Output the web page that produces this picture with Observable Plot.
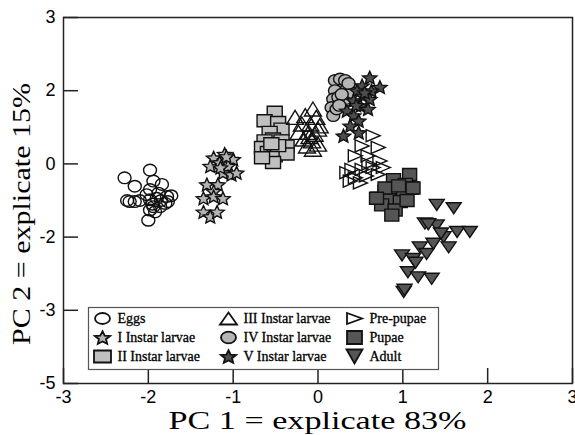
<!DOCTYPE html>
<html><head><meta charset="utf-8">
<script src="https://cdn.jsdelivr.net/npm/d3@7"></script>
<script src="https://cdn.jsdelivr.net/npm/@observablehq/plot@0.6"></script>
<style>
body{margin:0;background:#fff}
#chart{position:relative;width:575px;height:435px}
#legend{position:absolute;left:88px;top:307px}
</style></head><body><div id="chart"></div>
<script>
// ---- data (PC1, PC2) ----
const eggs = [[-2.28,-0.38],[-1.98,-0.17],[-2.16,-0.61],[-1.94,-0.47],[-1.84,-0.56],[-2.22,-1.03],[-2.16,-1.03],[-2.10,-1.00],[-1.98,-0.70],[-1.88,-0.80],[-1.78,-0.89],[-1.73,-0.87],[-1.94,-1.17],[-1.86,-1.17],[-1.80,-1.08],[-2.00,-1.54],[-1.98,-1.26],[-1.90,-0.94],[-2.02,-0.84],[-1.77,-1.03],[-1.92,-1.31],[-1.98,-0.98],[-2.25,-1.00],[-1.95,-1.10],[-1.85,-1.00]];
const instar1 = [[-1.23,0.17],[-1.10,0.27],[-1.00,0.13],[-1.27,-0.06],[-1.16,0.04],[-1.06,-0.06],[-1.12,-0.24],[-1.02,-0.29],[-0.96,-0.24],[-1.31,-0.56],[-1.18,-0.56],[-1.23,-0.75],[-1.35,-0.94],[-1.23,-0.89],[-1.12,-0.94],[-1.35,-1.31],[-1.27,-1.44],[-1.19,-1.31],[-1.08,0.20],[-1.15,-0.10]];
const instar2 = [[-0.51,1.41],[-0.63,1.18],[-0.47,1.13],[-0.43,0.95],[-0.57,0.86],[-0.53,0.68],[-0.63,0.63],[-0.43,0.63],[-0.37,0.49],[-0.53,0.40],[-0.66,0.45],[-0.59,0.31],[-0.51,0.22],[-0.37,0.27],[-0.53,0.04],[-0.66,0.17],[-0.47,0.50],[-0.55,0.55]];
const instar3 = [[-0.06,1.50],[-0.27,1.27],[-0.15,1.32],[-0.02,1.27],[-0.19,1.09],[-0.09,1.09],[0.02,1.04],[-0.23,0.86],[-0.11,0.86],[-0.04,0.81],[-0.17,0.68],[-0.07,0.63],[0.00,0.54],[-0.13,0.49],[-0.06,0.40],[-0.10,0.75],[0.00,0.95]];
const instar4 = [[0.20,2.14],[0.26,2.16],[0.32,2.14],[0.20,2.00],[0.18,1.77],[0.16,1.54],[0.18,1.32],[0.22,1.50],[0.30,1.68],[0.24,1.82],[0.34,2.02],[0.40,1.95],[0.28,1.90],[0.25,1.60],[0.36,2.10]];
const instar5 = [[0.61,2.18],[0.73,2.05],[0.52,2.07],[0.63,2.00],[0.46,2.00],[0.53,1.86],[0.61,1.77],[0.42,1.73],[0.50,1.59],[0.59,1.50],[0.34,1.45],[0.42,1.32],[0.48,1.18],[0.38,1.04],[0.30,0.77],[0.48,0.86],[0.55,1.95],[0.45,1.60]];
const prepupae = [[0.65,0.77],[0.52,0.49],[0.71,0.45],[0.44,0.22],[0.59,0.22],[0.73,0.08],[0.40,-0.15],[0.52,-0.15],[0.65,-0.10],[0.77,-0.10],[0.34,-0.24],[0.44,-0.38],[0.57,-0.33],[0.71,-0.29],[0.38,-0.47],[0.50,-0.52],[0.60,0.00]];
const pupae = [[1.08,-0.29],[0.89,-0.43],[1.03,-0.56],[1.10,-0.66],[0.79,-0.75],[0.91,-0.80],[1.01,-0.80],[0.71,-0.94],[0.83,-0.98],[0.97,-1.03],[0.75,-1.12],[0.91,-1.26],[0.87,-1.40],[1.12,-0.66],[0.79,-0.66],[0.69,-0.94],[0.95,-0.60],[1.05,-1.00]];
const adult = [[1.40,-1.12],[1.60,-1.21],[1.26,-1.63],[1.40,-1.68],[1.64,-1.86],[1.79,-1.86],[1.48,-2.00],[1.36,-2.09],[1.54,-2.14],[1.20,-2.14],[0.99,-2.25],[1.12,-2.30],[1.28,-2.23],[1.06,-2.48],[1.18,-2.55],[1.34,-2.57],[1.01,-2.75],[1.30,-1.65],[1.45,-1.90],[1.15,-2.35],[1.02,-2.72]];

const names = ["Eggs","I Instar larvae","II Instar larvae","III Instar larvae","IV Instar larvae","V Instar larvae","Pre-pupae","Pupae","Adult"];
const xTicks = [-3,-2,-1,0,1,2,3];
const yTicks = [-5,-3,-2,0,2,3];
const xTitle = "PC 1 = explicate 83%";
const yTitle = "PC 2 = explicate 15%";

// ---- symbols ----
function ellipse(rx, ry){ return {draw(c){ const k=0.5523; c.moveTo(rx,0); c.bezierCurveTo(rx,ry*k,rx*k,ry,0,ry); c.bezierCurveTo(-rx*k,ry,-rx,ry*k,-rx,0); c.bezierCurveTo(-rx,-ry*k,-rx*k,-ry,0,-ry); c.bezierCurveTo(rx*k,-ry,rx,-ry*k,rx,0); c.closePath(); }}; }
function poly(pts){ return {draw(c){ pts.forEach(([x,y],i)=> i? c.lineTo(x,y): c.moveTo(x,y)); c.closePath(); }}; }
function rect(w,h){ return poly([[-w/2,-h/2],[w/2,-h/2],[w/2,h/2],[-w/2,h/2]]); }
function triUp(w,h){ return poly([[0,-h/2],[w/2,h/2],[-w/2,h/2]]); }
function triDown(w,h){ return poly([[-w/2,-h/2],[w/2,-h/2],[0,h/2]]); }
function triRight(w,h){ return poly([[-w/2,-h/2],[w/2,0],[-w/2,h/2]]); }
function star(rx, ry, k=0.46){ const p=[]; for(let i=0;i<10;i++){const a=-Math.PI/2+i*Math.PI/5, r=i%2?k:1; p.push([Math.cos(a)*r*rx, Math.sin(a)*r*ry+ry*0.1]);} return poly(p); }

const series = [
  {data: eggs,     sym: ellipse(6.5,5.8), leg: ellipse(7.5,5.5), fill: "none"},
  {data: instar1,  sym: star(7.5,7),      leg: star(8,7),        fill: "#b3b3b3"},
  {data: instar2,  sym: rect(15,12),      leg: rect(17,12),      fill: "#c0c0c0"},
  {data: instar3,  sym: triUp(17,14),     leg: triUp(17,12),     fill: "none"},
  {data: instar4,  sym: ellipse(6.5,5.8), leg: ellipse(7.5,5.8), fill: "#b5b5b5"},
  {data: instar5,  sym: star(7.5,7),      leg: star(8,7),        fill: "#4d4d4d"},
  {data: prepupae, sym: triRight(14,12),  leg: triRight(15,11),  fill: "none"},
  {data: pupae,    sym: rect(14,12),      leg: rect(15,13),      fill: "#555555"},
  {data: adult,    sym: triDown(15,11),   leg: triDown(16,14),   fill: "#555555"}
];

const W=575, H=435, mL=63, mR=3, mT=17, mB=52;
const yRange = d3.quantize(d3.interpolateNumber(H-mB, mT), yTicks.length);

const plot = Plot.plot({
  width: W, height: H, marginLeft: mL, marginRight: mR, marginTop: mT, marginBottom: mB,
  style: {fontFamily: "'Liberation Sans', Arial, sans-serif", fontSize: "18px", color: "#000", background: "#fff", overflow: "visible"},
  x: {type: "linear", domain: [-3,3], label: null},
  y: {type: "linear", domain: yTicks, range: yRange, label: null},
  marks: [
    Plot.axisX({ticks: xTicks, tickSize: 0, tickPadding: 7, tickFormat: d => String(d), label: null}),
    Plot.axisY({ticks: yTicks, tickSize: 0, tickPadding: 8, tickFormat: d => String(d), label: null}),
    Plot.ruleX(xTicks, {x: d => d, insetTop: (H-mT-mB)-15, stroke: "#222", strokeWidth: 1.5}),
    Plot.ruleY(yTicks, {y: d => d, insetRight: (W-mL-mR)-15, stroke: "#222", strokeWidth: 1.5}),
    ...series.map(s => Plot.dot(s.data, {x: d => d[0], y: d => d[1], symbol: s.sym, fill: s.fill, stroke: "#111", strokeWidth: 1.4})),
    Plot.frame({stroke: "#222", strokeWidth: 1.5})
  ]
});

const svg = d3.select(plot);
const serif = "'Liberation Serif', 'Times New Roman', serif";
svg.append("text").attr("x", (mL + W - mR)/2).attr("y", 429)
  .attr("text-anchor","middle").attr("textLength", 298).attr("lengthAdjust","spacingAndGlyphs")
  .style("font-family", serif).style("font-size","25px").attr("fill","#000").text(xTitle);
svg.append("text").attr("transform", "translate(30,214) rotate(-90)")
  .attr("text-anchor","middle").attr("textLength", 262).attr("lengthAdjust","spacingAndGlyphs")
  .style("font-family", serif).style("font-size","26px").attr("fill","#000").text(yTitle);

const legItems = names.map((name, i) => ({name, col: Math.floor(i/3), row: i%3, s: series[i]}));
const legend = Plot.plot({
  width: 350, height: 62, margin: 0,
  x: {type: "linear", domain: [0,2], range: [14,266], axis: null},
  y: {type: "linear", domain: [0,2], range: [11,49], axis: null},
  style: {fontFamily: serif, fontSize: "14px", background: "#fff", overflow: "visible"},
  marks: [
    Plot.frame({stroke: "#555", strokeWidth: 1.2}),
    ...legItems.map(d => Plot.dot([d], {x: "col", y: "row", symbol: d.s.leg, fill: d.s.fill, stroke: "#111", strokeWidth: 1.8})),
    Plot.text(legItems, {x: "col", y: "row", text: "name", dx: 15, textAnchor: "start", fill: "#000", stroke: "#000", strokeWidth: 0.3})
  ]
});
legend.id = "legend";
const chart = document.getElementById("chart");
chart.appendChild(plot);
chart.appendChild(legend);
</script></body></html>
